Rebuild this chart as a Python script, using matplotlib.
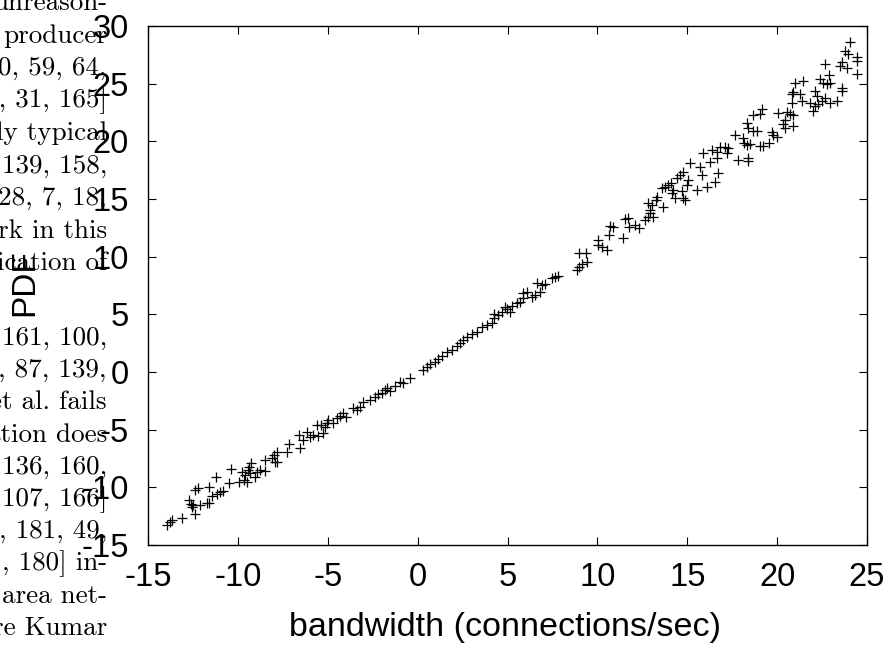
#! /usr/bin/env python3
# coding: utf-8

import matplotlib

matplotlib.use("Agg")
import matplotlib.pyplot as plt

# measured points: bandwidth (connections/sec) vs PDF
bandwidth = [
    -13.93, -13.78, -13.66, -13.13, -12.70, -12.62, -12.57, -12.39, -12.51, -12.39,
    -12.20, -12.11, -11.59, -11.73, -11.59, -11.46, -11.22, -11.18, -11.00, -10.84,
    -10.48, -10.38, -9.92, -9.79, -9.64, -9.51, -9.60, -9.42, -9.36, -9.29,
    -9.33, -9.05, -8.95, -8.77, -8.49, -8.49, -8.12, -7.99, -7.93, -7.81,
    -7.84, -7.28, -7.14, -6.54, -6.58, -6.36, -6.17, -5.99, -5.80, -5.61,
    -5.53, -5.39, -5.25, -5.15, -5.06, -4.97, -4.69, -4.50, -4.32, -4.13,
    -3.98, -3.58, -3.39, -3.21, -3.02, -2.65, -2.37, -2.19, -2.00, -1.81,
    -1.72, -1.54, -1.26, -0.98, -0.83, -0.42, 0.32, 0.50, 0.69, 0.97,
    1.15, 1.34, 1.62, 1.90, 2.17, 2.36, 2.54, 2.73, 3.01, 3.29,
    3.56, 3.84, 4.12, 4.25, 4.25, 4.49, 4.68, 4.86, 4.99, 5.14,
    5.23, 5.51, 5.70, 5.88, 5.85, 6.07, 6.35, 6.53, 6.62, 6.81,
    6.90, 7.09, 7.46, 7.64, 7.83, 8.85, 9.00, 9.13, 9.44, 9.00,
    9.37, 10.05, 10.05, 10.52, 10.66, 11.44, 10.24, 10.70, 10.89, 11.54,
    11.72, 11.78, 12.09, 12.33, 12.65, 12.83, 12.93, 12.83, 12.93, 13.11,
    13.02, 13.26, 13.30, 13.67, 13.58, 13.76, 13.95, 14.10, 14.22, 14.13,
    14.32, 14.41, 14.59, 14.69, 14.78, 14.87, 14.78, 14.97, 15.06, 15.15,
    15.53, 15.71, 15.80, 16.08, 16.27, 16.54, 16.73, 15.89, 16.36, 16.64,
    16.64, 16.82, 17.10, 17.28, 17.19, 17.66, 17.84, 18.12, 18.16, 18.31,
    18.31, 18.40, 18.49, 18.40, 18.40, 18.67, 18.67, 18.86, 19.05, 19.14,
    19.05, 19.23, 19.57, 19.70, 19.79, 19.97, 20.07, 20.34, 20.44, 20.53,
    20.44, 20.72, 20.90, 20.90, 20.81, 20.81, 20.90, 21.00, 21.27, 21.37,
    21.46, 21.83, 22.01, 22.10, 22.10, 22.20, 22.29, 22.48, 22.39, 22.57,
    22.66, 22.76, 22.94, 22.94, 22.66, 22.90, 23.31, 23.59, 23.59, 23.50,
    23.59, 23.78, 23.87, 23.96, 24.05, 24.42, 24.46, 24.42,
]
pdf = [
    -13.27, -12.98, -12.83, -12.69, -11.10, -11.45, -11.73, -12.34, -11.53, -10.23,
    -10.09, -11.53, -11.33, -11.33, -9.95, -10.75, -9.13, -10.58, -10.38, -10.29,
    -9.65, -8.44, -9.51, -8.65, -9.37, -9.57, -8.93, -8.50, -8.21, -7.92,
    -8.78, -9.13, -8.65, -8.50, -8.56, -7.63, -7.48, -7.20, -7.78, -7.83,
    -6.91, -6.91, -6.24, -6.62, -5.46, -5.90, -5.18, -5.61, -5.46, -4.60,
    -5.55, -4.60, -5.32, -4.74, -4.40, -4.16, -4.45, -4.02, -3.82, -3.58,
    -3.93, -3.15, -3.30, -3.01, -2.58, -2.43, -2.14, -1.91, -1.80, -1.56,
    -1.41, -1.62, -1.21, -0.84, -0.98, -0.49, 0.17, 0.46, 0.69, 0.89,
    1.10, 1.39, 1.76, 1.91, 2.25, 2.54, 2.77, 3.06, 3.29, 3.49,
    3.93, 4.07, 4.22, 4.66, 5.03, 4.94, 5.23, 5.61, 5.44, 5.23,
    5.72, 5.96, 6.10, 6.39, 6.82, 6.96, 6.53, 6.68, 7.69, 6.96,
    7.54, 7.63, 8.12, 8.26, 8.32, 8.84, 9.13, 9.36, 9.56, 10.34,
    10.34, 11.01, 11.44, 10.58, 11.88, 11.59, 10.86, 12.66, 12.60, 13.24,
    13.33, 12.60, 12.75, 12.46, 13.18, 13.47, 13.76, 14.63, 14.05, 13.41,
    14.48, 14.91, 15.20, 14.28, 15.93, 16.07, 16.21, 16.41, 15.78, 15.55,
    15.06, 16.79, 17.08, 15.72, 15.06, 14.91, 17.37, 16.21, 16.65, 18.10,
    15.78, 17.80, 17.08, 16.07, 18.23, 16.50, 17.23, 18.96, 19.25, 18.53,
    19.10, 19.53, 19.53, 19.40, 18.96, 20.55, 18.38, 20.26, 19.83, 19.68,
    21.56, 18.53, 19.74, 18.29, 21.18, 22.26, 20.90, 20.90, 22.34, 22.78,
    19.60, 19.60, 19.88, 20.81, 20.52, 20.38, 22.48, 21.48, 21.82, 22.54,
    21.18, 22.34, 22.26, 21.33, 24.08, 23.35, 24.28, 25.08, 24.08, 23.50,
    25.23, 23.30, 22.63, 23.06, 24.36, 23.93, 23.21, 23.50, 25.38, 25.08,
    23.78, 24.94, 25.08, 23.30, 26.68, 25.73, 23.50, 24.65, 24.36, 26.53,
    26.88, 27.83, 26.38, 27.55, 28.61, 27.34, 26.97, 25.81,
]

x_ticks = [-15, -10, -5, 0, 5, 10, 15, 20, 25]
y_ticks = [-15, -10, -5, 0, 5, 10, 15, 20, 25, 30]

# fragments of the page text that shows to the left of the figure
page_top = [
    "unreason-", "producer", "0, 59, 64,", "2, 31, 165]", "ly typical",
    "139, 158,", "28, 7, 18,", "rk in this", "ication of",
]
page_bottom = [
    "161, 100,", ", 87, 139,", "et al. fails", "ation does", "136, 160,",
    "107, 166]", ", 181, 49,", ", 180] in-", "area net-", "re Kumar",
]

plt.rcParams["font.family"] = ["Liberation Sans", "DejaVu Sans"]
plt.rcParams["axes.unicode_minus"] = False

W, H = 892, 648
fig = plt.figure(figsize=(W / 100, H / 100), dpi=100)
ax = fig.add_axes([148 / W, 1 - 545 / H, 719 / W, 519 / H])

ax.plot(bandwidth, pdf, "+", color="black", markersize=6.5, markeredgewidth=0.9)

ax.set_xlim(-15, 25)
ax.set_ylim(-15, 30)
ax.set_xticks(x_ticks)
ax.set_yticks(y_ticks)
ax.tick_params(direction="in", length=5.5, width=0.8, labelsize=23.5,
               top=True, right=True)
ax.tick_params(axis="x", pad=12)
ax.tick_params(axis="y", pad=14)
for spine in ax.spines.values():
    spine.set_linewidth(1.0)

ax.set_xlabel("bandwidth (connections/sec)", fontsize=24.5)
ax.set_ylabel("PDF", fontsize=24)
ax.xaxis.set_label_coords(0.497, -0.129)
ax.yaxis.set_label_coords(-0.150, 0.505)

for i, line in enumerate(page_top):
    fig.text(107 / W, 1 - (10 + 32.5 * i) / H, line, ha="right",
             va="baseline", family="cmr10", fontsize=19.5)
for i, line in enumerate(page_bottom):
    fig.text(107 / W, 1 - (345 + 32.2 * i) / H, line, ha="right",
             va="baseline", family="cmr10", fontsize=19.5)

fig.savefig("out.png", dpi=100)
